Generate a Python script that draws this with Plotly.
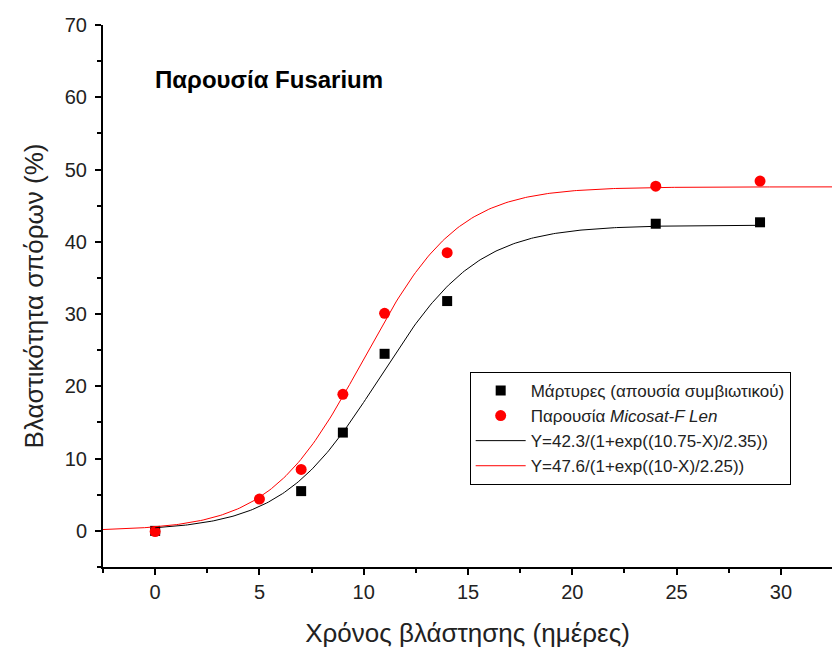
import numpy as np
import plotly.graph_objects as go

# Data
days_ctrl = [0, 7, 9, 11, 14, 24, 29]
germ_ctrl = [0.0, 5.5, 13.6, 24.5, 31.8, 42.5, 42.7]
days_mico = [0, 5, 7, 9, 11, 14, 24, 29]
germ_mico = [-0.1, 4.4, 8.5, 18.9, 30.1, 38.5, 47.7, 48.4]

# Fit parameters (from legend formulas)
fit_ctrl = dict(a=42.3, x0=10.75, s=2.35, xmin=0, xmax=29)
fit_mico = dict(a=47.6, x0=10.0, s=2.25, xmin=-2.5, xmax=32.5)

names = [
    "Μάρτυρες (απουσία συμβιωτικού)",
    "Παρουσία <i>Micosat-F Len</i>",
    "Y=42.3/(1+exp((10.75-X)/2.35))",
    "Y=47.6/(1+exp((10-X)/2.25))",
]

def logistic(p):
    x = np.linspace(p["xmin"], p["xmax"], 300)
    return x, p["a"] / (1 + np.exp((p["x0"] - x) / p["s"]))

FONT = "Liberation Sans, Arial, sans-serif"

fig = go.Figure()
fig.add_trace(go.Scatter(x=days_ctrl, y=germ_ctrl, mode="markers", name=names[0],
                         marker=dict(symbol="square", size=10, color="black")))
fig.add_trace(go.Scatter(x=days_mico, y=germ_mico, mode="markers", name=names[1],
                         marker=dict(symbol="circle", size=11, color="#ff0000")))
xc, yc = logistic(fit_ctrl)
fig.add_trace(go.Scatter(x=xc, y=yc, mode="lines", name=names[2],
                         line=dict(color="black", width=1)))
xm, ym = logistic(fit_mico)
fig.add_trace(go.Scatter(x=xm, y=ym, mode="lines", name=names[3],
                         line=dict(color="#ff0000", width=1)))

axis_common = dict(
    showline=True, linecolor="black", linewidth=2, mirror=False,
    ticks="outside", ticklen=6, tickwidth=2, tickcolor="black",
    showgrid=False, zeroline=False, automargin=False,
    tickfont=dict(family=FONT, size=20, color="#222"),
)

fig.update_xaxes(range=[-2.5, 32.45], tickvals=[0, 5, 10, 15, 20, 25, 30],
                 minor=dict(ticks="outside", ticklen=4, tickwidth=2, tickcolor="black",
                            tickvals=[-2.5, 2.5, 7.5, 12.5, 17.5, 22.5, 27.5, 32.5]),
                 title=dict(text="Χρόνος βλάστησης (ημέρες)",
                            font=dict(family=FONT, size=26, color="#222"), standoff=22),
                 **axis_common)
fig.update_yaxes(range=[-5, 70], tickvals=[0, 10, 20, 30, 40, 50, 60, 70],
                 minor=dict(ticks="outside", ticklen=4, tickwidth=2, tickcolor="black",
                            tickvals=[-5, 5, 15, 25, 35, 45, 55, 65]),
                 ticklabelstandoff=4,
                 title=dict(text="Βλαστικότητα σπόρων (%)",
                            font=dict(family=FONT, size=26, color="#222"), standoff=14),
                 **axis_common)

fig.add_annotation(xref="paper", yref="paper", x=0.068, y=0.9, xanchor="left", yanchor="middle",
                   text="<b>Παρουσία Fusarium</b>", showarrow=False,
                   font=dict(family=FONT, size=24, color="black"))

fig.update_layout(
    width=832, height=651,
    margin=dict(l=103, r=0, t=25, b=84),
    plot_bgcolor="white", paper_bgcolor="white",
    legend=dict(x=0.503, y=0.36, xanchor="left", yanchor="top",
                bgcolor="white", bordercolor="black", borderwidth=1,
                font=dict(family=FONT, size=17, color="#222"),
                tracegroupgap=0, itemwidth=50),
)

fig.write_html("out.html", config={"displayModeBar": False},
               post_script="document.body.style.margin='0';")
